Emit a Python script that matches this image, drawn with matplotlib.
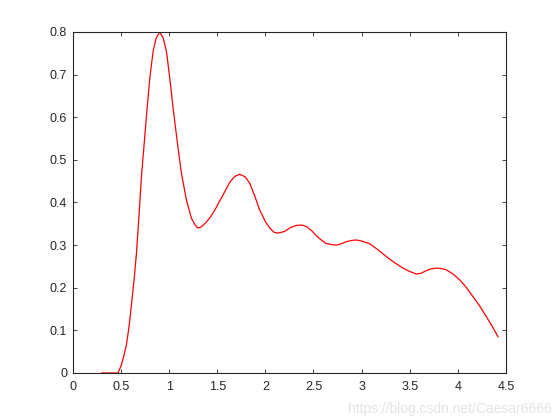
import matplotlib
matplotlib.use('Agg')
import matplotlib.pyplot as plt

# values
x = [0.30, 0.40, 0.47, 0.505, 0.53, 0.557, 0.585, 0.609, 0.635, 0.661, 0.689, 0.713,
     0.744, 0.772, 0.80, 0.834, 0.865, 0.903, 0.94, 0.973, 1.007, 1.042, 1.087, 1.128,
     1.18, 1.232, 1.27, 1.30, 1.33, 1.38, 1.43, 1.48, 1.53,
     1.58, 1.63, 1.68, 1.734, 1.79, 1.838, 1.89, 1.94, 2.00, 2.046, 2.09, 2.13, 2.20,
     2.26, 2.32, 2.38, 2.43, 2.48, 2.53, 2.58, 2.63, 2.69, 2.74, 2.79, 2.84,
     2.90, 2.946, 3.01, 3.084, 3.17, 3.257, 3.34, 3.43, 3.50, 3.57, 3.62, 3.67,
     3.72, 3.777, 3.83, 3.88, 3.95, 4.02, 4.09, 4.157, 4.23, 4.296, 4.36, 4.417]
y = [0.0, 0.0, 0.0, 0.019, 0.04, 0.066, 0.11, 0.16, 0.215, 0.28, 0.375, 0.46,
     0.545, 0.621, 0.692, 0.754, 0.785, 0.80, 0.785, 0.754, 0.692, 0.621, 0.539, 0.469,
     0.406, 0.363, 0.347, 0.34, 0.342, 0.352, 0.366, 0.384, 0.405,
     0.426, 0.447, 0.461, 0.466, 0.46, 0.445, 0.415, 0.383, 0.355, 0.34, 0.33, 0.328, 0.332,
     0.341, 0.346, 0.347, 0.343, 0.334, 0.322, 0.312, 0.304, 0.301, 0.30, 0.303, 0.308,
     0.311, 0.312, 0.309, 0.303, 0.289, 0.273, 0.259, 0.246, 0.238, 0.232, 0.234, 0.240,
     0.244, 0.246, 0.245, 0.242, 0.232, 0.218, 0.200, 0.179, 0.156, 0.132, 0.108, 0.085]

xticks = [0, 0.5, 1, 1.5, 2, 2.5, 3, 3.5, 4, 4.5]
xlabels = ['0', '0.5', '1', '1.5', '2', '2.5', '3', '3.5', '4', '4.5']
yticks = [0, 0.1, 0.2, 0.3, 0.4, 0.5, 0.6, 0.7, 0.8]
ylabels = ['0', '0.1', '0.2', '0.3', '0.4', '0.5', '0.6', '0.7', '0.8']

plt.rcParams['font.family'] = ['Liberation Sans', 'DejaVu Sans']
fig = plt.figure(figsize=(5.6, 4.2), dpi=100)
ax = fig.add_axes([0.13, 0.112, 0.7736, 0.812])
ax.plot(x, y, color='#ff0000', lw=0.9)

ax.set_xlim(0, 4.5)
ax.set_ylim(0, 0.8)
ax.set_xticks(xticks)
ax.set_xticklabels(xlabels)
ax.set_yticks(yticks)
ax.set_yticklabels(ylabels)

dark = '#262626'
for s in ax.spines.values():
    s.set_color(dark)
    s.set_linewidth(0.8)
ax.tick_params(direction='in', length=3, width=0.6, color=dark, labelcolor=dark,
               labelsize=9, top=True, right=True)
ax.tick_params(axis='x', pad=6)
ax.tick_params(axis='y', pad=4)

fig.text(0.985, 0.01, 'https://blog.csdn.net/Caesar6666', ha='right', va='bottom',
         fontsize=10, color='#e4e4e4')

fig.savefig('out.png', dpi=100)
